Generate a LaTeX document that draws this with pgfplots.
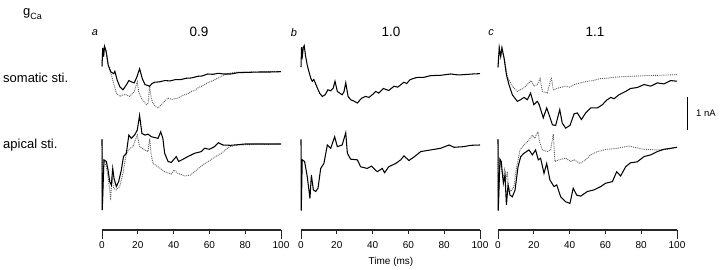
\documentclass[border=0pt]{standalone}
\usepackage{fontspec}
\setmainfont{Liberation Sans}
\usepackage{pgfplots}
\pgfplotsset{compat=1.18}

% one panel = 100 ms over 179pt, 1 nA = 33pt
\pgfplotsset{
  panel/.style={scale only axis, width=179pt, xmin=0, xmax=100,
    enlargelimits=false, clip=false, anchor=south west},
  toprow/.style={panel, height=99pt, ymin=-2, ymax=1, axis lines=none},
  botrow/.style={panel, height=118pt, ymin=-2.576, ymax=1,
    axis x line*=bottom, axis y line=none,
    axis line style={black!85, line width=1.1pt, -},
    xtick={0,20,...,100}, tick align=outside,
    major tick length=4.5pt,
    tick style={black!85, line width=0.9pt},
    extra x ticks={0,100}, extra x tick labels={},
    extra tick style={major tick length=9pt},
    xticklabel shift=3.5pt,
    ticklabel style={font=\fontsize{10}{11}\selectfont},
    /pgf/number format/assume math mode=true},
  solidtr/.style={black, line width=1.05pt, no marks},
  dottr/.style={black!65, densely dotted, line width=0.9pt, no marks},
}

\begin{document}
\begin{tikzpicture}
\useasboundingbox (0,0) rectangle (720pt,270pt);

% ---------- somatic stimulation ----------
\begin{axis}[toprow, at={(102pt,132pt)}]
\addplot[dottr] coordinates {
(0,0.17)(0.4,0.73)(0.9,0.47)(1.4,0.78)(2.3,0.63)(3.5,0.2)(5.2,-0.08)(6.5,-0.35)
(8,-0.64)(9.9,-0.74)(11.5,-0.7)(13,-0.68)(15.5,-0.74)(17,-0.65)(18,-0.59)(19.7,-0.3)
(20.5,-0.6)(22,-0.79)(23.5,-0.9)(24.8,-0.99)(25.8,-0.95)(26.6,-0.43)(27.5,-0.8)
(28.5,-0.94)(30,-1.05)(31.3,-1.09)(33,-1.0)(34,-0.94)(36.9,-0.79)(39,-0.83)
(42.5,-0.79)(44,-0.74)(46,-0.69)(48,-0.66)(50,-0.59)(52,-0.55)(53.6,-0.48)
(56,-0.42)(59,-0.33)(62,-0.26)(65,-0.18)(68.5,-0.08)(72,-0.03)(76,0)(82,0)
(88,0.0)(94,0.01)(100,0.01)};
\addplot[solidtr] coordinates {
(0,0.17)(0.4,0.73)(0.9,0.47)(1.4,0.78)(2.3,0.63)(3.5,0.2)(5,0.0)(6.5,-0.05)
(7.2,0.02)(8.5,-0.25)(10,-0.45)(11.7,-0.54)(13.5,-0.4)(15,-0.26)(16.5,-0.3)
(18,-0.33)(19.5,-0.15)(21,0.1)(22.5,-0.2)(24,-0.38)(26.6,-0.43)(28,-0.35)
(29.4,-0.31)(32,-0.3)(35,-0.26)(38,-0.27)(41,-0.23)(44,-0.23)(47,-0.19)
(50,-0.18)(53.6,-0.13)(56,-0.12)(59,-0.06)(62,-0.07)(65,-0.04)(68,-0.06)
(72,-0.06)(76,-0.02)(82,-0.01)(88,0)(94,0.0)(100,0.01)};
\end{axis}

\begin{axis}[toprow, at={(301pt,132pt)}]
\addplot[solidtr] coordinates {
(0,0.15)(0.3,0.75)(0.8,0.5)(1.3,0.75)(1.8,0.8)(2.5,0.5)(3.5,0.2)(5.4,-0.18)
(6.3,-0.28)(7.2,-0.23)(9.1,-0.48)(10.5,-0.65)(11.9,-0.74)(13.5,-0.69)(15,-0.54)
(16.6,-0.57)(18,-0.49)(19,-0.28)(20.3,-0.59)(23,-0.69)(24,-0.6)(25,-0.33)
(26.3,-0.74)(27.7,-0.84)(29.5,-0.88)(31.5,-0.94)(33.7,-0.8)(36,-0.74)(38,-0.77)
(40,-0.68)(41.7,-0.59)(43.5,-0.64)(46,-0.5)(49,-0.56)(52,-0.43)(54,-0.46)
(57.5,-0.31)(59,-0.35)(61,-0.23)(65,-0.16)(68.7,-0.16)(72.4,-0.11)(78,-0.1)
(83.6,-0.06)(88,-0.09)(91,-0.08)(96,-0.06)(100,-0.05)};
\end{axis}

\begin{axis}[toprow, at={(498pt,132pt)}]
\addplot[dottr] coordinates {
(0,0.14)(0.7,0.73)(1.5,0.47)(2.2,0.73)(3.4,0.42)(5.2,-0.13)(6.1,-0.23)(8,-0.43)
(10.8,-0.59)(14.5,-0.48)(17.3,-0.33)(18.6,-0.26)(20,-0.43)(22,-0.38)(23.5,-0.2)
(24.8,-0.59)(27.5,-0.64)(29.8,-0.16)(30.9,-0.54)(34,-0.48)(37.8,-0.43)(40,-0.46)
(42.5,-0.38)(46,-0.33)(50,-0.28)(53,-0.26)(57,-0.2)(61,-0.19)(64.8,-0.16)
(70,-0.14)(75,-0.13)(81.6,-0.11)(90,-0.1)(95,-0.09)(100,-0.08)};
\addplot[solidtr] coordinates {
(0,0.14)(0.7,0.73)(1.5,0.47)(2.2,0.73)(3.4,0.42)(4.7,-0.08)(6.1,-0.38)(8,-0.69)
(10.8,-0.89)(12.6,-0.84)(14.5,-0.77)(16.4,-0.84)(18.2,-0.64)(20,-0.99)(22,-0.89)
(23,-0.99)(25.3,-1.39)(27.2,-1.09)(28.5,-1.29)(30.4,-1.6)(32.2,-1.62)(34.5,-1.14)
(35.9,-1.55)(37.8,-1.7)(40.2,-1.62)(42.5,-1.27)(44.3,-1.24)(46.6,-1.44)(49,-1.24)
(51.8,-1.09)(55.5,-1.09)(58.3,-0.99)(61,-0.84)(63,-0.77)(64.8,-0.81)(67.6,-0.69)
(71.3,-0.59)(74,-0.5)(77.8,-0.47)(81.6,-0.38)(85.3,-0.43)(89,-0.33)(92.7,-0.36)
(96.5,-0.26)(100,-0.28)};
% 1 nA scale bar
\draw[line width=1.1pt] (axis cs:106.1,-0.76) -- (axis cs:106.1,-1.76);
\end{axis}

% ---------- apical stimulation ----------
\begin{axis}[botrow, at={(102pt,40pt)}]
\addplot[dottr] coordinates {
(0,0.17)(0.15,-1.97)(1.1,-0.45)(2.4,-0.66)(3.4,-0.96)(4.3,-1.36)(4.8,-1.67)
(5.6,-0.96)(6.5,-1.31)(8,-1.36)(9.9,-1.26)(11.7,-0.86)(13.6,-0.25)(15.5,-0.1)
(17.3,-0.05)(18.6,0.15)(19.7,0.3)(21,-0.05)(23.8,-0.15)(25.7,-0.2)(26.6,0.2)
(27.5,-0.3)(28.5,-0.56)(31.3,-0.66)(35,-0.81)(38.7,-0.88)(40.2,-0.76)(42.5,-0.86)
(46.2,-0.94)(49.5,-0.91)(52.7,-0.76)(55,-0.66)(57.4,-0.56)(60,-0.48)(62,-0.4)
(66.7,-0.25)(71.3,-0.05)(76,0)(82,0.01)(87,0.03)(93,0.02)(100,0.03)};
\addplot[solidtr] coordinates {
(0,0.17)(0.15,-1.97)(1.1,-0.45)(2.4,-0.5)(3.4,-0.76)(4.3,-1.11)(5.2,-1.21)
(6,-0.71)(6.7,-1.01)(8,-1.26)(9.3,-1.11)(10.8,-0.76)(12,-0.35)(13.6,-0.25)
(15,0.3)(16.4,0.2)(18.2,0.3)(19.7,0.45)(21,0.9)(22.3,0.35)(24,0.3)(25.7,0.33)
(27.6,0.25)(31.3,0.2)(32.8,0.4)(34,0.2)(35,-0.25)(36.9,-0.5)(38.7,-0.53)
(41.5,-0.35)(42.8,-0.5)(45.3,-0.43)(48,-0.35)(51.8,-0.25)(55.5,-0.2)(57.3,-0.1)
(60,-0.13)(62.9,-0.05)(65,0.07)(67.5,0)(72,-0.01)(80,0.03)(90.9,0.03)(100,0.03)};
\end{axis}

\begin{axis}[botrow, at={(301pt,40pt)}]
\addplot[solidtr] coordinates {
(0,0.17)(0.15,-1.99)(0.7,-0.45)(2,-0.5)(3.5,-0.96)(5,-1.62)(5.8,-0.91)(6.9,-1.36)
(8.2,-1.41)(9.5,-1.31)(11,-0.71)(12.8,-0.56)(14.7,0)(16.6,-0.1)(18.8,0.25)
(20.3,-0.05)(23,0)(25,0.37)(25.9,-0.25)(27.7,-0.43)(31.5,-0.45)(33.3,-0.66)
(37,-0.71)(39.3,-0.64)(42.6,-0.81)(45.4,-0.71)(46.7,-0.84)(49,-0.66)(52.9,-0.56)
(55.7,-0.45)(57.5,-0.33)(60.3,-0.47)(63,-0.37)(66.9,-0.2)(72.4,-0.15)(78,-0.1)
(82.7,0)(85.5,-0.07)(91,-0.05)(94.8,-0.01)(100,0)};
\end{axis}

\begin{axis}[botrow, at={(498pt,40pt)}]
\addplot[dottr] coordinates {
(0,0.17)(0.15,-1.99)(1.1,-0.43)(2.8,-1.01)(3.7,-0.76)(4.3,-1.06)(5.2,-0.81)
(5.8,-1.26)(7.1,-1.41)(8.9,-1.26)(10.4,-0.66)(12.3,-0.15)(14.5,0)(17.3,0.15)
(19.2,0.3)(20.5,0.2)(22.3,0.4)(23.2,0.1)(24.8,-0.15)(27.5,-0.2)(29.4,-0.15)
(30.9,0.33)(31.8,-0.5)(34,-0.45)(37.8,-0.4)(40.6,-0.5)(42.5,-0.45)(45.8,-0.56)
(49,-0.45)(51.8,-0.3)(55.5,-0.2)(61,-0.13)(66.7,-0.1)(73.2,-0.03)(76,-0.07)
(81.6,-0.13)(89,-0.15)(94.4,-0.13)(100,-0.07)};
\addplot[solidtr] coordinates {
(0,0.17)(0.15,-1.99)(1.1,-0.43)(1.8,-0.5)(3,-1.16)(3.9,-0.91)(4.7,-1.82)
(5.6,-1.21)(6.7,-1.52)(8,-1.57)(9.5,-1.37)(11.2,-0.66)(12.7,-0.35)(14.5,-0.25)
(17.3,-0.15)(19.2,-0.3)(21,-0.15)(22.5,-0.45)(23.8,-0.4)(25.7,-0.86)(27.2,-0.56)
(29,-1.06)(31.3,-1.26)(32.8,-1.21)(35,-1.57)(37.8,-1.72)(40.2,-1.77)(42,-1.31)
(44,-1.52)(46.2,-1.55)(49.9,-1.41)(53.6,-1.36)(57.4,-1.26)(60.1,-1.16)(63.9,-1.11)
(66.3,-0.81)(68.5,-0.94)(71.3,-0.66)(74,-0.54)(77.8,-0.51)(81.6,-0.35)(85.3,-0.3)
(89,-0.2)(92.7,-0.13)(96.5,-0.1)(100,-0.07)};
\end{axis}

% ---------- labels ----------
\node[anchor=base west, inner sep=0, font=\fontsize{13}{13}\selectfont]
  at (23pt,254pt) {g\raisebox{-0.45ex}{\fontsize{9}{9}\selectfont Ca}};
\node[font=\fontsize{11}{11}\selectfont\itshape] at (95pt,237.5pt) {a};
\node[font=\fontsize{11}{11}\selectfont\itshape] at (294pt,237.5pt) {b};
\node[font=\fontsize{11}{11}\selectfont\itshape] at (491pt,237.5pt) {c};
\node[font=\fontsize{13.5}{14}\selectfont] at (199pt,238pt) {0.9};
\node[font=\fontsize{13.5}{14}\selectfont] at (391pt,238pt) {1.0};
\node[font=\fontsize{13.5}{14}\selectfont] at (595pt,238pt) {1.1};
\node[anchor=west, inner sep=0, font=\fontsize{13}{14}\selectfont] at (3pt,192pt) {somatic sti.};
\node[anchor=west, inner sep=0, font=\fontsize{13}{14}\selectfont] at (3pt,125pt) {apical sti.};
\node[anchor=west, inner sep=0, font=\fontsize{9.5}{10}\selectfont] at (696pt,157pt) {1 nA};
\node[font=\fontsize{10}{11}\selectfont] at (391pt,8pt) {Time (ms)};
\end{tikzpicture}
\end{document}
